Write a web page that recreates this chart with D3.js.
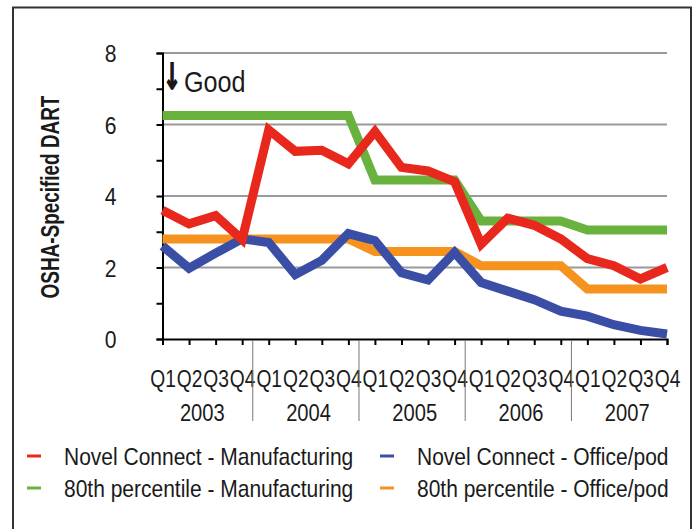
<!DOCTYPE html>
<html>
<head>
<meta charset="utf-8">
<script src="https://cdn.jsdelivr.net/npm/d3@7"></script>
<style>
  html, body { margin: 0; padding: 0; background: #ffffff; }
  svg { display: block; }
  text { font-family: "Liberation Sans", Arial, "DejaVu Sans", sans-serif; fill: #1a1a1a; }
</style>
</head>
<body>
<svg id="chart" width="697" height="529"></svg>
<script>
// Quarterly DART rates, 2003–2007
const years = ["2003", "2004", "2005", "2006", "2007"];
const quarters = ["Q1", "Q2", "Q3", "Q4"];
const categories = years.flatMap(y => quarters.map(q => q + " " + y));

const novelManufacturing = [3.6, 3.22, 3.45, 2.78, 5.85, 5.25, 5.28, 4.9, 5.8, 4.8,
                            4.7, 4.4, 2.65, 3.38, 3.18, 2.8, 2.25, 2.05, 1.68, 2.0];
const novelOffice = [2.6, 1.98, 2.4, 2.8, 2.7, 1.8, 2.2, 2.95, 2.75, 1.85,
                     1.65, 2.42, 1.58, 1.34, 1.1, 0.78, 0.64, 0.4, 0.24, 0.14];
const pctManufacturing = [6.25, 6.25, 6.25, 6.25, 6.25, 6.25, 6.25, 6.25, 4.45, 4.45,
                          4.45, 4.45, 3.3, 3.3, 3.3, 3.3, 3.05, 3.05, 3.05, 3.05];
const pctOffice = [2.8, 2.8, 2.8, 2.8, 2.8, 2.8, 2.8, 2.8, 2.45, 2.45,
                   2.45, 2.45, 2.05, 2.05, 2.05, 2.05, 1.4, 1.4, 1.4, 1.4];

const yTicks = [0, 2, 4, 6, 8];
const yMinorTicks = [0, 1, 2, 3, 4, 5, 6, 7, 8];
const yTitle = "OSHA-Specified DART";
const noteArrow = "\u2193";
const noteText = "Good";

const seriesNames = ["Novel Connect - Manufacturing", "Novel Connect - Office/pod",
                     "80th percentile - Manufacturing", "80th percentile - Office/pod"];
const seriesValues = [novelManufacturing, novelOffice, pctManufacturing, pctOffice];
const seriesColors = ["#e8281c", "#3a4ea6", "#6ab23e", "#f6921e"];
// drawn bottom to top
const drawOrder = [2, 3, 1, 0];

const svg = d3.select("#chart");

// narrow text horizontally (condensed look) by scaling about its anchor point
function narrow(sel, tx, ty, f) {
  sel.attr("x", 0).attr("y", 0)
     .attr("transform", `translate(${tx},${ty}) scale(${f},1)`);
}

// outer frame
svg.append("rect")
  .attr("x", 13).attr("y", 7.5).attr("width", 678).attr("height", 540)
  .attr("fill", "#ffffff").attr("stroke", "#333").attr("stroke-width", 2);

const plot = { left: 162.5, right: 667, top: 53, bottom: 339 };

const x = d3.scalePoint().domain(categories).range([plot.left, plot.right]);
const y = d3.scaleLinear().domain([0, 8]).range([plot.bottom, plot.top]);
const step = x.step();

// horizontal gridlines
svg.append("g").selectAll("line")
  .data(yTicks.filter(d => d > 0))
  .join("line")
  .attr("x1", plot.left).attr("x2", plot.right)
  .attr("y1", d => y(d)).attr("y2", d => y(d))
  .attr("stroke", "#9a9a9a").attr("stroke-width", 2);

// y axis with a tick at every unit and labels on even values
const yAxis = svg.append("g")
  .attr("transform", `translate(${plot.left},0)`)
  .call(d3.axisLeft(y).tickValues(yMinorTicks).tickSize(6).tickFormat(d => yTicks.includes(d) ? d : ""));
yAxis.select(".domain").attr("stroke", "#000").attr("stroke-width", 2);
yAxis.selectAll(".tick line").attr("stroke", "#000").attr("stroke-width", 2);
yAxis.selectAll(".tick text")
  .attr("dy", "0.36em")
  .style("font-size", "24px").attr("fill", "#222")
  .call(narrow, -46, 0, 0.88);

// x axis
const xAxis = svg.append("g")
  .attr("transform", `translate(0,${plot.bottom})`)
  .call(d3.axisBottom(x).tickSize(6).tickFormat(d => d.split(" ")[0]));
xAxis.select(".domain").attr("stroke", "#000").attr("stroke-width", 2);
xAxis.selectAll(".tick line").attr("stroke", "#000").attr("stroke-width", 2);
xAxis.selectAll(".tick text")
  .attr("dy", 0)
  .style("font-size", "24px").attr("fill", "#222")
  .call(narrow, 0, 48, 0.8);

// year separators and year labels
const yearGroup = svg.append("g");
years.forEach((yr, i) => {
  const first = x(quarters[0] + " " + yr);
  const last = x(quarters[3] + " " + yr);
  yearGroup.append("text")
    .attr("text-anchor", "middle")
    .style("font-size", "24px").attr("fill", "#222")
    .text(yr)
    .call(narrow, (first + last) / 2, 421, 0.84);
  if (i < years.length - 1) {
    const sx = last + step * 0.4;
    yearGroup.append("line")
      .attr("x1", sx).attr("x2", sx).attr("y1", plot.bottom + 1).attr("y2", 421)
      .attr("stroke", "#777").attr("stroke-width", 1);
  }
});

// series lines
const line = d3.line()
  .x((d, i) => x(categories[i]))
  .y(d => y(d));

svg.append("g").selectAll("path")
  .data(drawOrder)
  .join("path")
  .attr("d", k => line(seriesValues[k]))
  .attr("fill", "none")
  .attr("stroke", k => seriesColors[k])
  .attr("stroke-width", 9)
  .attr("stroke-linejoin", "miter")
  .attr("stroke-miterlimit", 2.5);

// "Good" note with down arrow
svg.append("text")
  .style("font-family", "'DejaVu Sans', sans-serif")
  .style("font-size", "36px").style("font-weight", "bold")
  .attr("fill", "#111").attr("stroke", "#111").attr("stroke-width", 1.4)
  .text(noteArrow)
  .call(narrow, 163, 89, 0.6);
svg.append("text")
  .style("font-size", "30px").attr("fill", "#111")
  .text(noteText)
  .call(narrow, 184, 92, 0.84);

// y axis title, squeezed to span 203px along the axis
const titleText = svg.append("text")
  .attr("text-anchor", "middle")
  .style("font-size", "25px").style("font-weight", "bold").attr("fill", "#111")
  .text(yTitle);
const titleScale = 203 / titleText.node().getComputedTextLength();
titleText.attr("transform", `translate(59,197) rotate(-90) scale(${titleScale},1)`);

// legend, two columns by two rows
const legendPos = [
  { x: 27, y: 456 }, { x: 380, y: 456 },
  { x: 27, y: 488 }, { x: 380, y: 488 }
];
const legend = svg.append("g");
seriesNames.forEach((name, k) => {
  const p = legendPos[k];
  legend.append("line")
    .attr("x1", p.x).attr("x2", p.x + 14)
    .attr("y1", p.y).attr("y2", p.y)
    .attr("stroke", seriesColors[k]).attr("stroke-width", 3);
  legend.append("text")
    .attr("dy", "0.36em")
    .style("font-size", "24px").attr("fill", "#222")
    .text(name)
    .call(narrow, p.x + 37, p.y, 0.875);
});
</script>
</body>
</html>
